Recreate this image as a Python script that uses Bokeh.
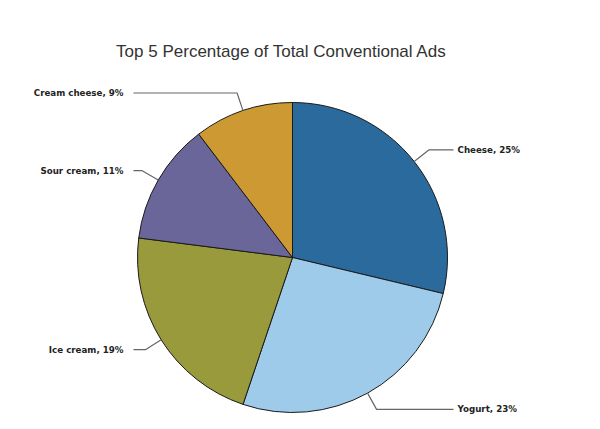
import numpy as np
from bokeh.plotting import figure
from bokeh.models import Range1d, ColumnDataSource
from bokeh.core.properties import value
from bokeh.embed import file_html
from bokeh.resources import INLINE

categories = ["Cheese", "Yogurt", "Ice cream", "Sour cream", "Cream cheese"]
percents = [25, 23, 19, 11, 9]
colors = ["#2b6a9c", "#9fcbeb", "#999a3b", "#6a6699", "#cc9933"]
title = "Top 5 Percentage of Total Conventional Ads"

W, H = 600, 429
cx, cy = 292, H - 257
R = 155

vals = np.array(percents, dtype=float)
frac = vals / vals.sum()
cum_end = np.cumsum(frac) * 2 * np.pi
cum_start = cum_end - frac * 2 * np.pi
start_angle = np.pi / 2 - cum_start
end_angle = np.pi / 2 - cum_end
mid = np.pi / 2 - (cum_start + cum_end) / 2

p = figure(width=W, height=H, x_range=Range1d(0, W), y_range=Range1d(0, H),
           output_backend="svg", toolbar_location=None, min_border=0)
p.axis.visible = False
p.grid.visible = False
p.outline_line_color = None
p.background_fill_color = "white"
p.border_fill_color = "white"

src = ColumnDataSource(dict(start=start_angle, end=end_angle, color=colors))
p.wedge(x=cx, y=cy, radius=R, start_angle="start", end_angle="end",
        direction="clock", fill_color="color", line_color="#1a1a1a",
        line_width=1, source=src)

labels = [f"{c}, {v}%" for c, v in zip(categories, percents)]
xs, ys, tx, ty, align = [], [], [], [], []
for m, lab in zip(mid, labels):
    x0, y0 = cx + R * np.cos(m), cy + R * np.sin(m)
    r1 = R * 1.12
    x1, y1 = cx + r1 * np.cos(m), cy + r1 * np.sin(m)
    right = np.cos(m) >= 0
    x2 = cx + 161 if right else cx - 159
    xs.append([x0, x1, x2])
    ys.append([y0, y1, y1])
    tx.append(x2 + 4 if right else x2 - 10)
    ty.append(y1)
    align.append("left" if right else "right")

p.multi_line(xs=xs, ys=ys, line_color="#666666", line_width=1.2)
p.text(x=tx, y=ty, text=labels, text_align=align, text_baseline="middle",
       text_font=value("DejaVu Sans"), text_font_size="8.7px",
       text_font_style="bold", text_color="#222222")

p.text(x=[281], y=[H - 51], text=[title], text_align="center",
       text_baseline="middle", text_font=value("Liberation Sans"),
       text_font_size="17px", text_color="#333333")

open("out.html", "w").write(file_html(p, INLINE))
